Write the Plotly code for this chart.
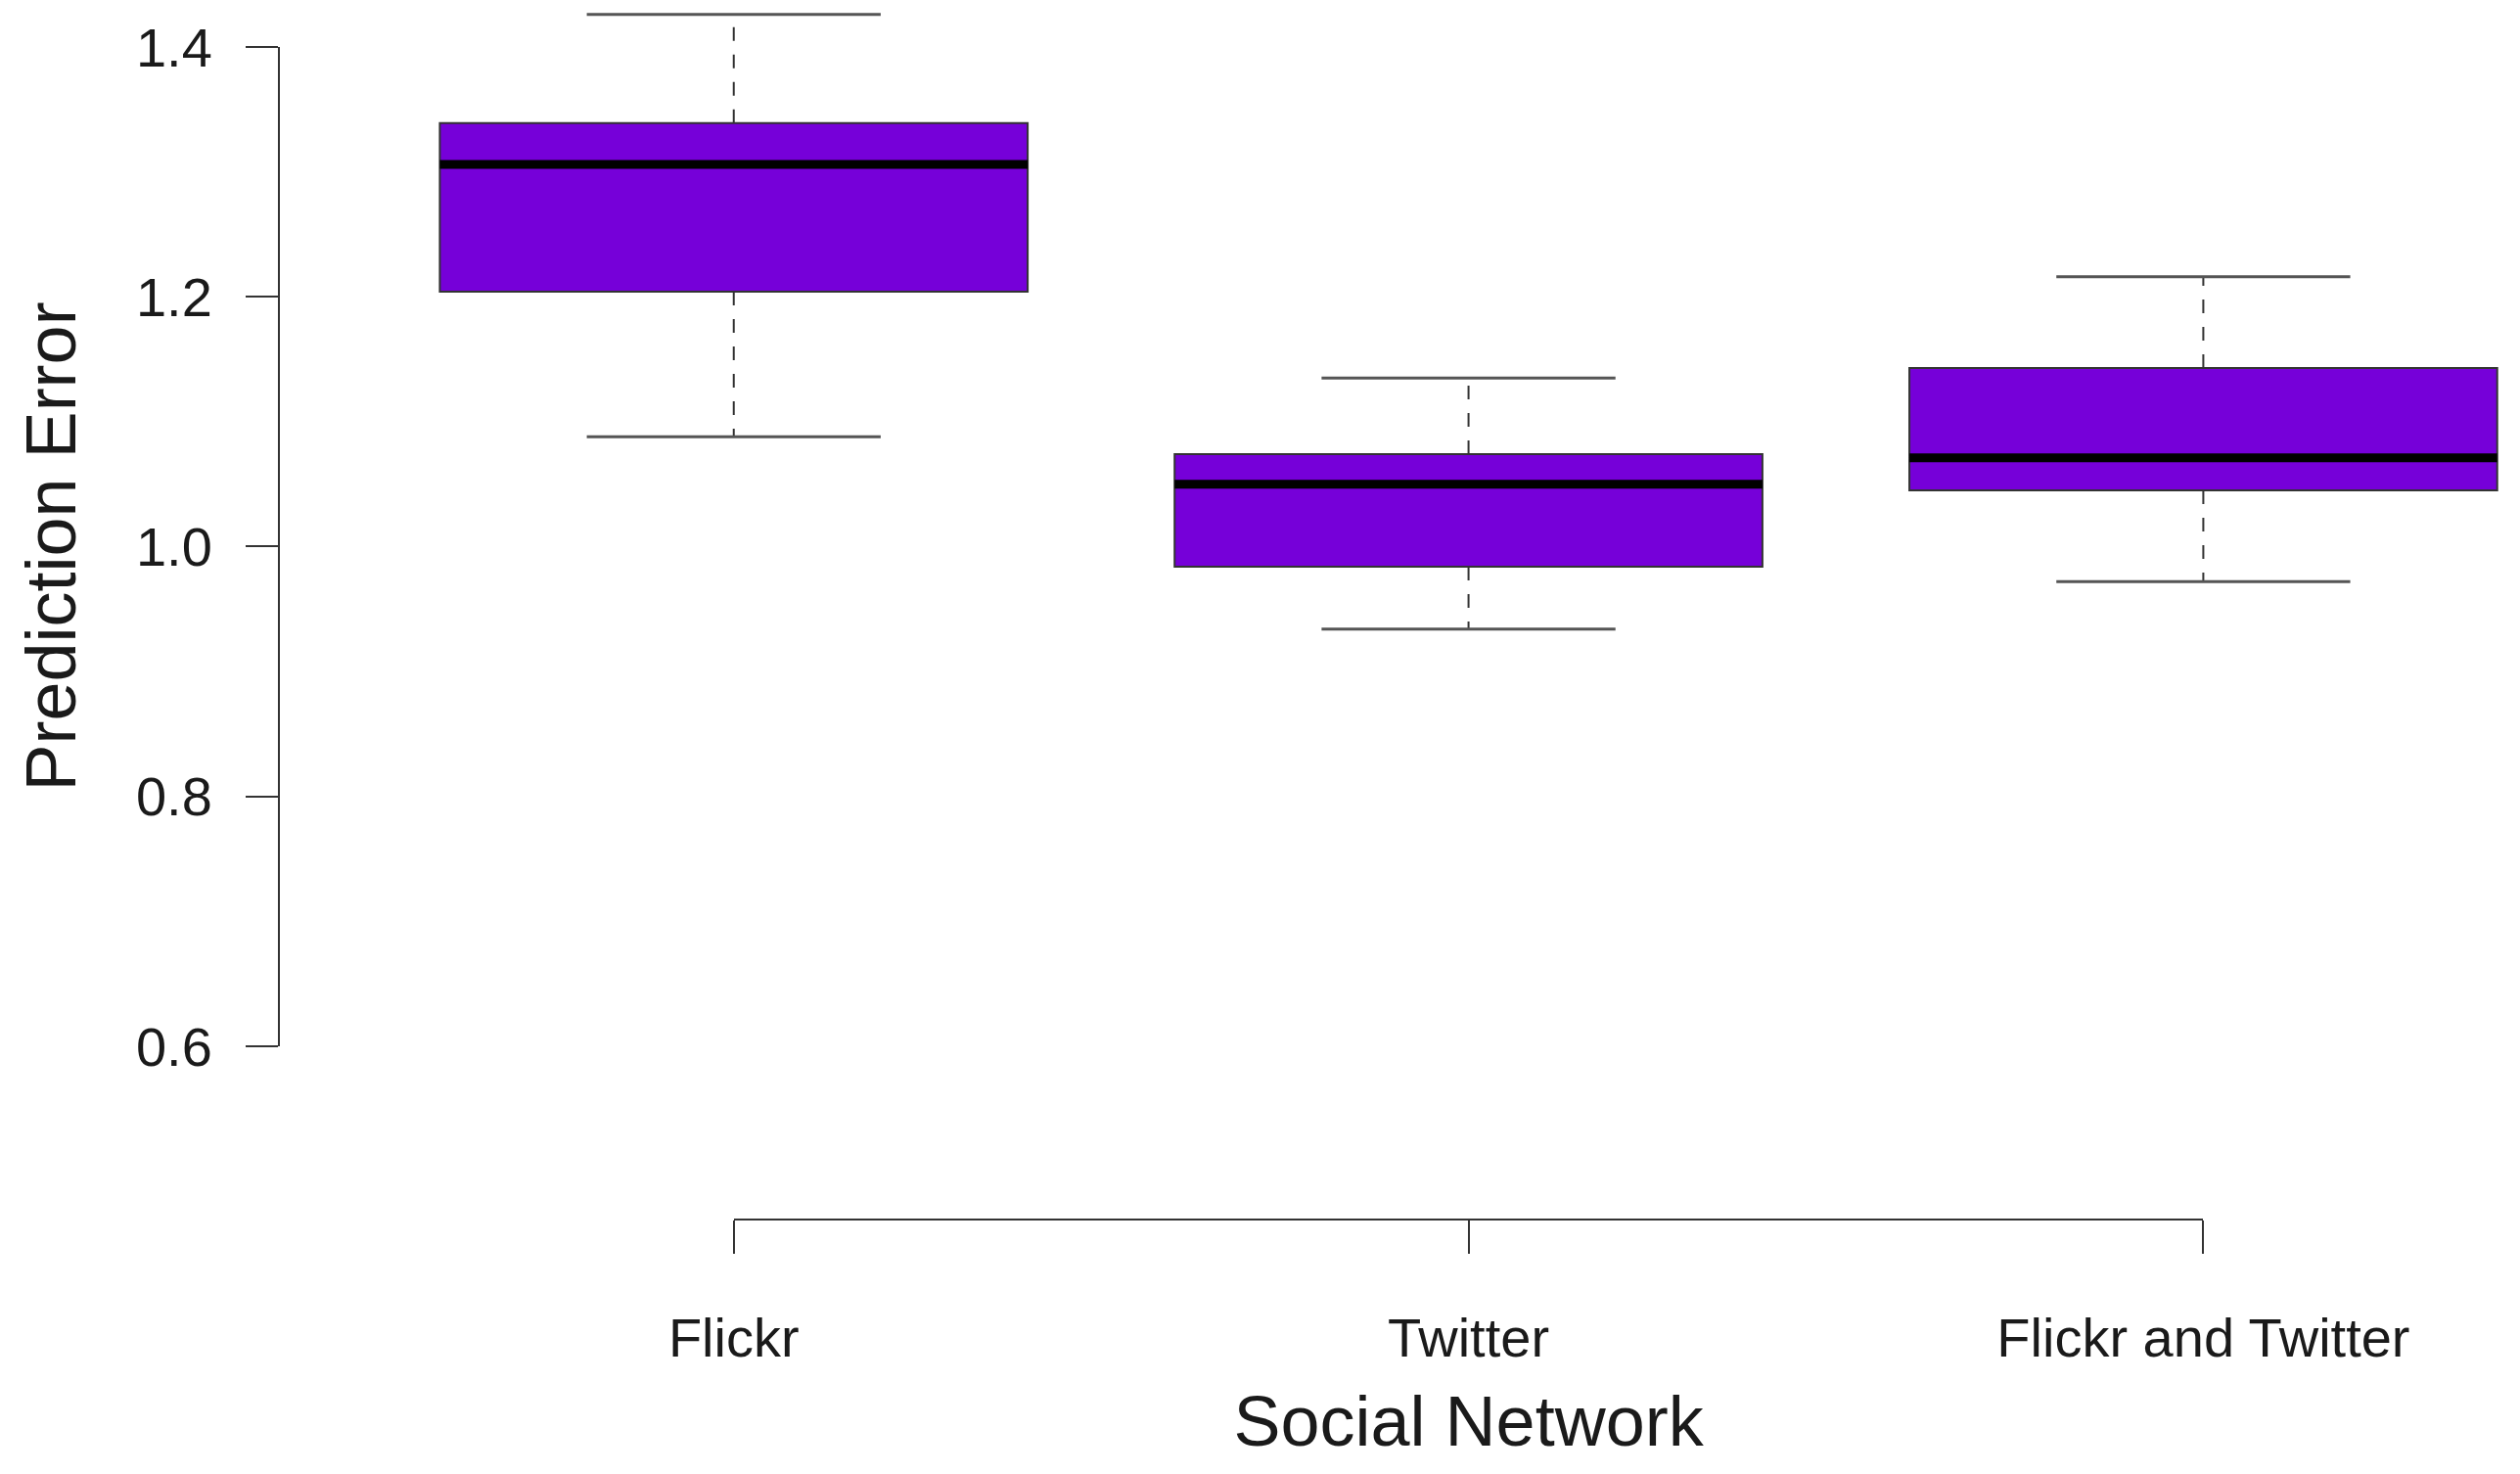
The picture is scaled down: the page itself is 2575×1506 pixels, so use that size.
import plotly.graph_objects as go

# values
categories = ["Flickr", "Twitter", "Flickr and Twitter"]
lower_whisker = [1.088, 0.934, 0.972]
q1 = [1.204, 0.984, 1.045]
median = [1.306, 1.050, 1.071]
q3 = [1.339, 1.074, 1.143]
upper_whisker = [1.426, 1.135, 1.216]
y_ticks = [0.6, 0.8, 1.0, 1.2, 1.4]

positions = list(range(1, len(categories) + 1))
box_width = 0.8
cap_width = 0.4

x_range = [0.381, 3.431]
y_range = [0.4613, 1.4313]

fill_color = "#7600D9"
font_family = "Liberation Sans, Arial, sans-serif"
ink = "#1a1a1a"

def frac(v, r):
    return (v - r[0]) / (r[1] - r[0])

fig = go.Figure()

# boxes without whiskers (whiskers drawn dashed below)
for p, cat, a, m, b in zip(positions, categories, q1, median, q3):
    fig.add_trace(go.Box(
        x=[p], q1=[a], median=[m], q3=[b], lowerfence=[a], upperfence=[b],
        width=box_width, whiskerwidth=0,
        fillcolor=fill_color, line=dict(color="#333333", width=2),
        name=cat, showlegend=False, hoverinfo="skip",
        xaxis="x", yaxis="y",
    ))

# dashed whisker stems
sx, sy = [], []
for p, lo, a, b, hi in zip(positions, lower_whisker, q1, q3, upper_whisker):
    sx += [p, p, None, p, p, None]
    sy += [b, hi, None, a, lo, None]
fig.add_trace(go.Scatter(x=sx, y=sy, mode="lines", showlegend=False, hoverinfo="skip",
                         line=dict(color="#333333", width=2, dash="14px,14px")))

# whisker caps
cx, cy = [], []
for p, lo, hi in zip(positions, lower_whisker, upper_whisker):
    cx += [p - cap_width / 2, p + cap_width / 2, None, p - cap_width / 2, p + cap_width / 2, None]
    cy += [hi, hi, None, lo, lo, None]
fig.add_trace(go.Scatter(x=cx, y=cy, mode="lines", showlegend=False, hoverinfo="skip",
                         line=dict(color="#555555", width=3)))

# thick medians
mx, my = [], []
for p, m in zip(positions, median):
    mx += [p - box_width / 2, p + box_width / 2, None]
    my += [m, m, None]
fig.add_trace(go.Scatter(x=mx, y=my, mode="lines", showlegend=False, hoverinfo="skip",
                         line=dict(color="black", width=9)))

# invisible trace so the R-style (range-limited) axes get drawn
fig.add_trace(go.Scatter(x=[positions[0], positions[-1]], y=[y_ticks[0], y_ticks[-1]],
                         mode="markers", marker=dict(opacity=0), showlegend=False,
                         hoverinfo="skip", xaxis="x2", yaxis="y2"))

fig.update_layout(
    width=2567, height=1498,
    margin=dict(l=277, r=0, t=0, b=260),
    plot_bgcolor="rgba(0,0,0,0)", paper_bgcolor="white",
    font=dict(family=font_family, color=ink),
    xaxis=dict(range=x_range, visible=False, domain=[0, 1], automargin=False),
    yaxis=dict(range=y_range, visible=False, domain=[0, 1], automargin=False),
    xaxis2=dict(
        domain=[frac(positions[0], x_range), frac(positions[-1], x_range)],
        range=[positions[0], positions[-1]],
        anchor="free", position=0, automargin=False,
        showline=True, linecolor="#333333", linewidth=2,
        ticks="outside", ticklen=34, tickwidth=2, tickcolor="#333333",
        tickvals=positions, ticktext=categories, ticklabelstandoff=38,
        tickfont=dict(size=56, family=font_family, color=ink),
        showgrid=False, zeroline=False,
        title=dict(text="Social Network", font=dict(size=72, family=font_family, color=ink), standoff=28),
    ),
    yaxis2=dict(
        domain=[frac(y_ticks[0], y_range), frac(y_ticks[-1], y_range)],
        range=[y_ticks[0], y_ticks[-1]],
        anchor="free", position=0, automargin=False,
        showline=True, linecolor="#333333", linewidth=2,
        ticks="outside", ticklen=33, tickwidth=2, tickcolor="#333333",
        tickvals=y_ticks, tickformat=".1f", ticklabelstandoff=23,
        tickfont=dict(size=56, family=font_family, color=ink),
        showgrid=False, zeroline=False,
        title=dict(text="Prediction Error", font=dict(size=72, family=font_family, color=ink), standoff=37),
    ),
)

fig.write_html("out.html")
